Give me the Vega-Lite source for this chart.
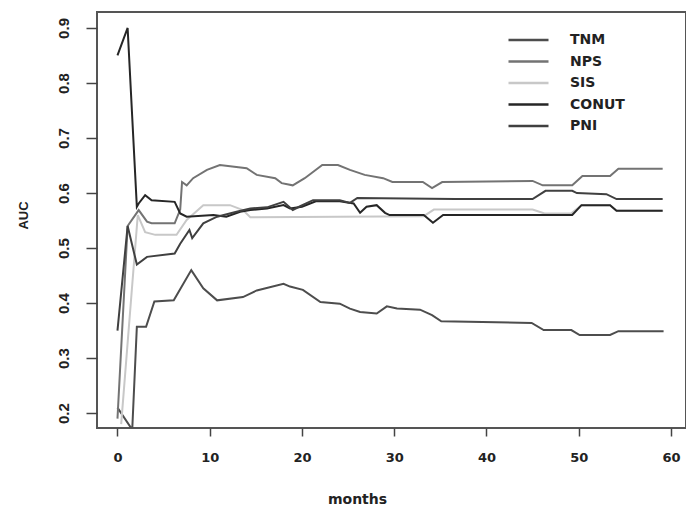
{
"$schema": "https://vega.github.io/schema/vega-lite/v6.json",
"width": 589, "height": 416,
"autosize": {"type": "none"},
"padding": {"left": 97, "top": 12, "right": 0, "bottom": 83},
"background": "white",
"config": {"view": {"stroke": "#555", "strokeWidth": 2}, "font": "Liberation Sans"},
"datasets": {"auc": [
{"s":"TNM","m":0,"auc":0.21},{"s":"TNM","m":1.6,"auc":0.17},{"s":"TNM","m":2.1,"auc":0.357},{"s":"TNM","m":3.1,"auc":0.357},{"s":"TNM","m":4.0,"auc":0.403},{"s":"TNM","m":6.1,"auc":0.405},{"s":"TNM","m":8.0,"auc":0.46},{"s":"TNM","m":9.3,"auc":0.427},{"s":"TNM","m":10.8,"auc":0.405},{"s":"TNM","m":13.6,"auc":0.411},{"s":"TNM","m":15.1,"auc":0.423},{"s":"TNM","m":18,"auc":0.435},{"s":"TNM","m":18.7,"auc":0.43},{"s":"TNM","m":20.1,"auc":0.424},{"s":"TNM","m":22,"auc":0.402},{"s":"TNM","m":24.1,"auc":0.399},{"s":"TNM","m":25.2,"auc":0.39},{"s":"TNM","m":26.3,"auc":0.384},{"s":"TNM","m":28.1,"auc":0.381},{"s":"TNM","m":29.2,"auc":0.394},{"s":"TNM","m":30.3,"auc":0.39},{"s":"TNM","m":32.8,"auc":0.388},{"s":"TNM","m":34.1,"auc":0.378},{"s":"TNM","m":35.1,"auc":0.367},{"s":"TNM","m":44.9,"auc":0.364},{"s":"TNM","m":46.2,"auc":0.351},{"s":"TNM","m":49.2,"auc":0.351},{"s":"TNM","m":50.1,"auc":0.342},{"s":"TNM","m":53.4,"auc":0.342},{"s":"TNM","m":54.3,"auc":0.349},{"s":"TNM","m":59.2,"auc":0.349},
{"s":"NPS","m":0,"auc":0.19},{"s":"NPS","m":1.1,"auc":0.54},{"s":"NPS","m":2.3,"auc":0.569},{"s":"NPS","m":3.2,"auc":0.548},{"s":"NPS","m":3.7,"auc":0.545},{"s":"NPS","m":6.2,"auc":0.545},{"s":"NPS","m":6.8,"auc":0.57},{"s":"NPS","m":7.0,"auc":0.62},{"s":"NPS","m":7.5,"auc":0.614},{"s":"NPS","m":8.2,"auc":0.627},{"s":"NPS","m":9.7,"auc":0.642},{"s":"NPS","m":11.1,"auc":0.651},{"s":"NPS","m":14,"auc":0.645},{"s":"NPS","m":15.1,"auc":0.633},{"s":"NPS","m":17.1,"auc":0.627},{"s":"NPS","m":17.8,"auc":0.618},{"s":"NPS","m":19,"auc":0.614},{"s":"NPS","m":20.3,"auc":0.627},{"s":"NPS","m":22.2,"auc":0.651},{"s":"NPS","m":23.9,"auc":0.651},{"s":"NPS","m":25.2,"auc":0.642},{"s":"NPS","m":26.8,"auc":0.633},{"s":"NPS","m":28.8,"auc":0.627},{"s":"NPS","m":29.8,"auc":0.62},{"s":"NPS","m":33.1,"auc":0.62},{"s":"NPS","m":34.1,"auc":0.609},{"s":"NPS","m":35.2,"auc":0.62},{"s":"NPS","m":45,"auc":0.622},{"s":"NPS","m":46.1,"auc":0.614},{"s":"NPS","m":49.3,"auc":0.614},{"s":"NPS","m":50.4,"auc":0.631},{"s":"NPS","m":53.4,"auc":0.631},{"s":"NPS","m":54.3,"auc":0.644},{"s":"NPS","m":59.1,"auc":0.644},
{"s":"SIS","m":0.4,"auc":0.18},{"s":"SIS","m":2.2,"auc":0.56},{"s":"SIS","m":3.0,"auc":0.529},{"s":"SIS","m":4.1,"auc":0.524},{"s":"SIS","m":6.4,"auc":0.524},{"s":"SIS","m":7.5,"auc":0.551},{"s":"SIS","m":9.3,"auc":0.578},{"s":"SIS","m":12.2,"auc":0.578},{"s":"SIS","m":13.6,"auc":0.569},{"s":"SIS","m":14.4,"auc":0.556},{"s":"SIS","m":33.2,"auc":0.558},{"s":"SIS","m":34.3,"auc":0.57},{"s":"SIS","m":45,"auc":0.57},{"s":"SIS","m":46.3,"auc":0.563},{"s":"SIS","m":49.2,"auc":0.563},{"s":"SIS","m":50.3,"auc":0.578},{"s":"SIS","m":53.4,"auc":0.578},{"s":"SIS","m":54.1,"auc":0.568},{"s":"SIS","m":59.1,"auc":0.568},
{"s":"CONUT","m":0,"auc":0.85},{"s":"CONUT","m":1.1,"auc":0.9},{"s":"CONUT","m":2.1,"auc":0.575},{"s":"CONUT","m":2.3,"auc":0.581},{"s":"CONUT","m":3,"auc":0.596},{"s":"CONUT","m":3.7,"auc":0.587},{"s":"CONUT","m":6.2,"auc":0.584},{"s":"CONUT","m":6.8,"auc":0.563},{"s":"CONUT","m":7.5,"auc":0.557},{"s":"CONUT","m":10.4,"auc":0.56},{"s":"CONUT","m":11.8,"auc":0.557},{"s":"CONUT","m":13.3,"auc":0.566},{"s":"CONUT","m":14.4,"auc":0.569},{"s":"CONUT","m":16.2,"auc":0.572},{"s":"CONUT","m":18,"auc":0.578},{"s":"CONUT","m":18.7,"auc":0.572},{"s":"CONUT","m":20,"auc":0.575},{"s":"CONUT","m":21.5,"auc":0.585},{"s":"CONUT","m":24.1,"auc":0.585},{"s":"CONUT","m":25.6,"auc":0.581},{"s":"CONUT","m":26.3,"auc":0.564},{"s":"CONUT","m":27,"auc":0.575},{"s":"CONUT","m":28.1,"auc":0.578},{"s":"CONUT","m":29,"auc":0.564},{"s":"CONUT","m":29.5,"auc":0.56},{"s":"CONUT","m":33.2,"auc":0.56},{"s":"CONUT","m":34.2,"auc":0.546},{"s":"CONUT","m":35.3,"auc":0.56},{"s":"CONUT","m":49.3,"auc":0.56},{"s":"CONUT","m":50.3,"auc":0.578},{"s":"CONUT","m":53.4,"auc":0.578},{"s":"CONUT","m":54.1,"auc":0.568},{"s":"CONUT","m":59.1,"auc":0.568},
{"s":"PNI","m":0,"auc":0.35},{"s":"PNI","m":1.1,"auc":0.54},{"s":"PNI","m":2.1,"auc":0.47},{"s":"PNI","m":3.2,"auc":0.484},{"s":"PNI","m":6.2,"auc":0.49},{"s":"PNI","m":6.8,"auc":0.508},{"s":"PNI","m":7.8,"auc":0.533},{"s":"PNI","m":8.1,"auc":0.518},{"s":"PNI","m":9.3,"auc":0.545},{"s":"PNI","m":10.8,"auc":0.557},{"s":"PNI","m":12.9,"auc":0.566},{"s":"PNI","m":14.4,"auc":0.572},{"s":"PNI","m":16.2,"auc":0.574},{"s":"PNI","m":18,"auc":0.584},{"s":"PNI","m":19,"auc":0.569},{"s":"PNI","m":19.8,"auc":0.576},{"s":"PNI","m":21.2,"auc":0.587},{"s":"PNI","m":24.1,"auc":0.587},{"s":"PNI","m":25.2,"auc":0.582},{"s":"PNI","m":26,"auc":0.591},{"s":"PNI","m":36.6,"auc":0.589},{"s":"PNI","m":45,"auc":0.589},{"s":"PNI","m":46.4,"auc":0.604},{"s":"PNI","m":49.3,"auc":0.604},{"s":"PNI","m":49.8,"auc":0.6},{"s":"PNI","m":53,"auc":0.598},{"s":"PNI","m":54.1,"auc":0.589},{"s":"PNI","m":59.1,"auc":0.589}
]},
"data": {"name": "auc"},
"mark": {"type": "line", "strokeWidth": 2, "clip": true},
"encoding": {
  "x": {"field": "m", "type": "quantitative",
    "scale": {"domain": [-2.22, 61.63], "nice": false, "zero": false},
    "axis": {"title": "months", "values": [0,10,20,30,40,50,60], "domain": false, "grid": false,
      "tickSize": 8, "tickColor": "#444", "tickWidth": 1.5,
      "labelFont": "DejaVu Sans", "labelFontWeight": "bold", "labelFontSize": 13, "labelColor": "#222",
      "labelPadding": 15, "labelFlush": false, "labelOverlap": false,
      "titleFont": "DejaVu Sans", "titleFontWeight": "bold", "titleFontSize": 14, "titleColor": "#222",
      "titleX": 260, "titleY": 71, "titleBaseline": "middle", "titleAlign": "center"}},
  "y": {"field": "auc", "type": "quantitative",
    "scale": {"domain": [0.173, 0.929], "nice": false, "zero": false},
    "axis": {"title": "AUC", "values": [0.2,0.3,0.4,0.5,0.6,0.7,0.8,0.9], "format": ".1f", "domain": false, "grid": false,
      "tickSize": 11, "tickColor": "#444", "tickWidth": 1.5,
      "labelAngle": 270, "labelAlign": "center", "labelBaseline": "middle", "labelPadding": 23,
      "labelFont": "Liberation Sans", "labelFontWeight": "bold", "labelFontSize": 15, "labelColor": "#222",
      "labelFlush": false, "labelOverlap": false,
      "titleFont": "Liberation Sans", "titleFontWeight": "bold", "titleFontSize": 13, "titleColor": "#222",
      "titleAngle": 270, "titleX": -74, "titleY": 203, "titleAlign": "center", "titleBaseline": "middle"}},
  "color": {"field": "s", "type": "nominal",
    "scale": {"domain": ["TNM","NPS","SIS","CONUT","PNI"], "range": ["#4d4d4d","#737373","#c8c8c8","#262626","#404040"]},
    "legend": {"title": null, "orient": "none", "legendX": 410, "legendY": 18, "padding": 0,
      "symbolType": "stroke", "symbolSize": 1600, "symbolStrokeWidth": 2.5,
      "labelFont": "DejaVu Sans", "labelFontWeight": "bold", "labelFontSize": 14, "labelColor": "#222",
      "labelOffset": 20, "rowPadding": 1.5, "clipHeight": 20}}
}
}
